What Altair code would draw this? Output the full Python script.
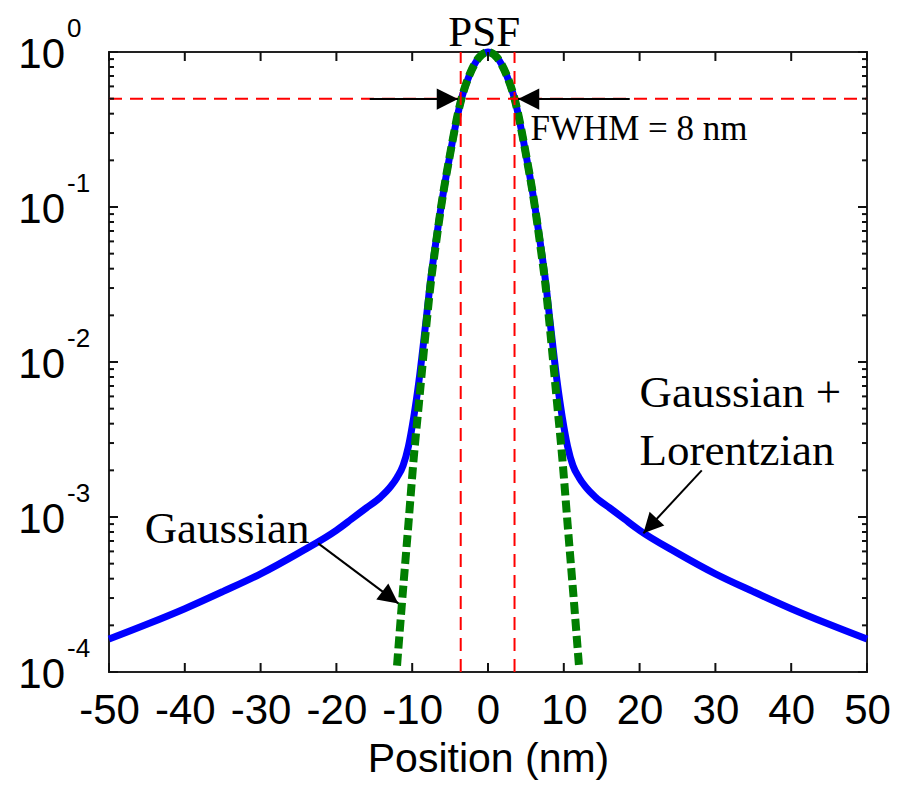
import altair as alt
import pandas as pd

# ---- data ----
blue_x = [-50, -45, -40, -35, -30, -25, -20, -18, -16, -14.2, -12.8, -12.0, -11.2, -10.5, -9.8, -9.1, -8.2, -7.5, -7.0, -6.0, -5.15, -3.5, -2.4, -1.2, 0,
          1.2, 2.4, 3.5, 5.15, 6.0, 7.0, 7.5, 8.2, 9.1, 9.8, 10.5, 11.2, 12.0, 12.8, 14.2, 16, 18, 20, 25, 30, 35, 40, 45, 50]
blue_y = [1.63e-4, 2.03e-4, 2.56e-4, 3.3e-4, 4.3e-4, 5.85e-4, 8.2e-4, 9.7e-4, 1.15e-3, 1.34e-3, 1.58e-3, 1.8e-3, 2.15e-3, 2.85e-3, 4.4e-3, 7.6e-3, 0.018, 0.036, 0.054, 0.115, 0.2, 0.5, 0.72, 0.92, 1.0,
          0.92, 0.72, 0.5, 0.2, 0.115, 0.054, 0.036, 0.018, 7.6e-3, 4.4e-3, 2.85e-3, 2.15e-3, 1.8e-3, 1.58e-3, 1.34e-3, 1.15e-3, 9.7e-4, 8.2e-4, 5.85e-4, 4.3e-4, 3.3e-4, 2.56e-4, 2.03e-4, 1.63e-4]

green_x = [-12.0, -11.4, -10.5, -9.8, -9.1, -8.2, -7.5, -7.0, -6.0, -5.15, -3.5, -2.4, -1.2, 0,
           1.2, 2.4, 3.5, 5.15, 6.0, 7.0, 7.5, 8.2, 9.1, 9.8, 10.5, 11.4, 12.0]
green_y = [1.1e-4, 2.6e-4, 9.0e-4, 2.4e-3, 5.5e-3, 0.016, 0.034, 0.052, 0.115, 0.2, 0.5, 0.72, 0.92, 1.0,
           0.92, 0.72, 0.5, 0.2, 0.115, 0.052, 0.034, 0.016, 5.5e-3, 2.4e-3, 9.0e-4, 2.6e-4, 1.1e-4]

half_max = [0.5]
fwhm_lines_x = [-3.6, 3.5]

# annotation arrows (start x, start y, tip x, tip y, head angle)
arrow_x1 = [-15.6, 18.7, -22.4, 28.2]
arrow_y1 = [0.497, 0.497, 6.76e-4, 2.0e-3]
arrow_x2 = [-3.96, 3.96, -11.83, 20.5]
arrow_y2 = [0.497, 0.497, 2.77e-4, 7.85e-4]
arrow_angle = [90, 270, 126.9, 222.7]
arrow_size = [1800, 1800, 1600, 1600]

# texts
note_text = ["FWHM = 8 nm", "Gaussian", "Gaussian +", "Lorentzian"]
note_x = [5.6, -45.3, 20.0, 20.0]
note_y = [0.27, 6.8e-4, 5.15e-3, 2.16e-3]
note_size = [35, 45, 45, 45]

x_ticks = [-50, -40, -30, -20, -10, 0, 10, 20, 30, 40, 50]
y_decades = [1e-4, 1e-3, 1e-2, 1e-1, 1]
y_exponents = ["-4", "-3", "-2", "-1", "0"]
minor_mult = [2, 3, 4, 5, 6, 7, 8, 9]
y_minor = [m * d for d in y_decades[:-1] for m in minor_mult]

W, H = 758, 620

xs = alt.Scale(domain=[-50, 50], nice=False, zero=False)
ys = alt.Scale(type="log", domain=[1e-4, 1], nice=False)

x_axis = alt.Axis(values=x_ticks, labelExpr="datum.value + ''", ticks=False, tickSize=0, domain=False,
                  grid=False, labelFont="Liberation Sans", labelFontSize=42, labelColor="black",
                  labelPadding=18, labelFlush=False, labelOverlap=False,
                  title="Position (nm)", titleFont="Liberation Sans", titleFontSize=41,
                  titleFontWeight="normal", titleColor="black", titlePadding=8)


def X(f):
    return alt.X(f, type="quantitative", scale=xs, axis=x_axis)


def Y(f):
    return alt.Y(f, type="quantitative", scale=ys, axis=None)


blue_df = pd.DataFrame({"x": blue_x, "y": blue_y})
green_df = pd.DataFrame({"x": green_x, "y": green_y})

blue = alt.Chart(blue_df).mark_line(color="#0000ff", strokeWidth=7, interpolate="monotone").encode(
    x=X("x"), y=Y("y"), order="x:Q")
green = alt.Chart(green_df).mark_line(color="#007f00", strokeWidth=8, strokeDash=[12, 5],
                                      interpolate="monotone").encode(x=X("x"), y=Y("y"), order="x:Q")

red_h = alt.Chart(pd.DataFrame({"y": half_max, "x": [-50], "x2": [50]})).mark_rule(
    color="#ff0000", strokeWidth=2, strokeDash=[13, 8]).encode(x=X("x"), x2="x2", y=Y("y"))
red_v = alt.Chart(pd.DataFrame({"x": fwhm_lines_x, "y": [1e-4] * 2, "y2": [1] * 2})).mark_rule(
    color="#ff0000", strokeWidth=2, strokeDash=[13, 8]).encode(x=X("x"), y=Y("y"), y2="y2")

arr_df = pd.DataFrame({"x1": arrow_x1, "y1": arrow_y1, "x2": arrow_x2, "y2": arrow_y2,
                       "angle": arrow_angle, "size": arrow_size})
arrow_lines = alt.Chart(arr_df).mark_rule(color="black", strokeWidth=2).encode(
    x=X("x1"), y=Y("y1"), x2="x2", y2="y2")
arrow_heads = alt.Chart(arr_df).mark_point(
    shape="M0,0L-0.5,1L0.5,1Z", filled=True, color="black", opacity=1, strokeWidth=0).encode(
    x=X("x2"), y=Y("y2"), angle=alt.Angle("angle:Q", scale=None), size=alt.Size("size:Q", scale=None))

notes = alt.Chart(pd.DataFrame({"t": note_text, "x": note_x, "y": note_y, "s": note_size})).mark_text(
    font="Liberation Serif", align="left", baseline="alphabetic", color="black").encode(
    x=X("x"), y=Y("y"), text="t:N", size=alt.Size("s:Q", scale=None))

psf = alt.Chart(pd.DataFrame({"t": ["PSF"], "x": [-0.5]})).mark_text(
    font="Liberation Serif", fontSize=43, align="center", baseline="alphabetic", color="black").encode(
    x=X("x"), y=alt.value(-6), text="t:N")

# inward ticks (box style)
xt_df = pd.DataFrame({"x": x_ticks})
tick_style = dict(color="#111111", strokeWidth=2)
xt_bottom = alt.Chart(xt_df).mark_rule(**tick_style).encode(x=X("x"), y=alt.value(H), y2=alt.value(H - 9))
xt_top = alt.Chart(xt_df).mark_rule(**tick_style).encode(x=X("x"), y=alt.value(0), y2=alt.value(9))
yd_df = pd.DataFrame({"y": y_decades, "e": y_exponents})
ym_df = pd.DataFrame({"y": y_minor})
yt_left = alt.Chart(yd_df).mark_rule(**tick_style).encode(y=Y("y"), x=alt.value(0), x2=alt.value(9))
yt_right = alt.Chart(yd_df).mark_rule(**tick_style).encode(y=Y("y"), x=alt.value(W), x2=alt.value(W - 9))
ym_left = alt.Chart(ym_df).mark_rule(**tick_style).encode(y=Y("y"), x=alt.value(0), x2=alt.value(5))
ym_right = alt.Chart(ym_df).mark_rule(**tick_style).encode(y=Y("y"), x=alt.value(W), x2=alt.value(W - 5))

# y tick labels 10^k
ylab_base = alt.Chart(yd_df).mark_text(font="Liberation Sans", fontSize=42, align="right",
                                       baseline="alphabetic", dy=16, color="black").encode(
    y=Y("y"), x=alt.value(-44), text=alt.value("10"))
ylab_exp = alt.Chart(yd_df).mark_text(font="Liberation Sans", fontSize=26, align="left",
                                      baseline="alphabetic", dy=-15, color="black").encode(
    y=Y("y"), x=alt.value(-42), text="e:N")

chart = alt.layer(
    blue, green, red_h, red_v, arrow_lines, arrow_heads, notes, psf,
    xt_bottom, xt_top, yt_left, yt_right, ym_left, ym_right, ylab_base, ylab_exp
).properties(
    width=W, height=H,
    background="white",
    autosize=alt.AutoSizeParams(type="none"),
    padding={"left": 101, "top": 44, "right": 28, "bottom": 109},
).configure_view(stroke="#222222", strokeWidth=2)

chart.save("out.html", embed_options={"renderer": "svg", "actions": False})
